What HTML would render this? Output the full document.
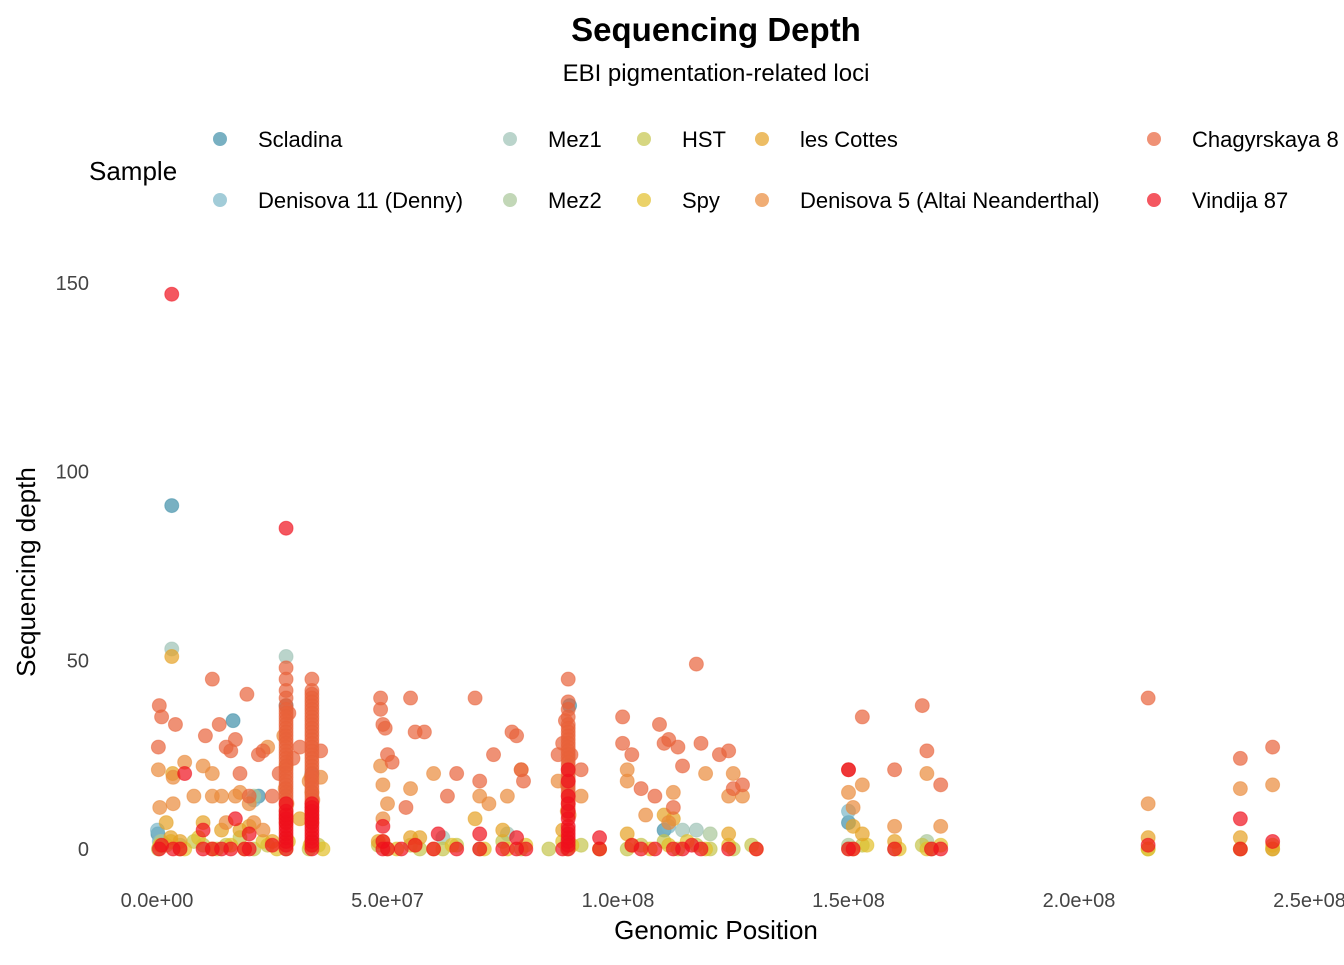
<!DOCTYPE html>
<html><head><meta charset="utf-8">
<style>
body{margin:0;background:#fff;font-family:"Liberation Sans",sans-serif;}
svg text{font-family:"Liberation Sans",sans-serif;}
</style></head>
<body>
<svg id="chart" width="1344" height="960" viewBox="0 0 1344 960" xmlns="http://www.w3.org/2000/svg">
<rect width="1344" height="960" fill="#fff"/>
<text x="716" y="41" text-anchor="middle" font-size="33" font-weight="bold" fill="#000">Sequencing Depth</text>
<text x="716" y="81" text-anchor="middle" font-size="24" fill="#000">EBI pigmentation-related loci</text>
<text x="89" y="180" font-size="26" fill="#000">Sample</text>
<g id="legend"></g>
<g id="yticks"></g>
<g id="xticks"></g>
<g id="points"></g>
<text x="716" y="939" text-anchor="middle" font-size="26" fill="#000">Genomic Position</text>
<text transform="translate(35,572) rotate(-90)" text-anchor="middle" font-size="26" fill="#000">Sequencing depth</text>
</svg>
<script>
const xTicks=[0,5e7,1e8,1.5e8,2e8,2.5e8];
const xTickLabels=["0.0e+00","5.0e+07","1.0e+08","1.5e+08","2.0e+08","2.5e+08"];
const yTicks=[0,50,100,150];
const seriesNames=["Scladina","Denisova 11 (Denny)","Mez1","Mez2","HST","Spy","les Cottes","Denisova 5 (Altai Neanderthal)","Chagyrskaya 8","Vindija 87"];
const seriesColors=["#3f8fa8","#7ab7c8","#9dc2b5","#a8c699","#c4c44c","#e2bf2a","#e6a124","#e98a3a","#e8623a","#f0101c"];
// [position in Mb, depth]
const scladinaPoints=[[3.2,91],[16.5,34],[22,14],[89.5,38],[110,5],[150,7],[0.2,4],[28,38],[33.6,20],[89.2,1]];
const denny11Points=[[0.1,5],[150,10],[111,6],[21,13],[33.6,2],[28,2],[0.5,2],[89,2]];
const mez1Points=[[28,51],[3.2,53],[62,3],[76,4],[114,5],[117,5],[1,2],[33.6,1]];
const mez2Points=[[0.8,2],[21,14],[28,3],[33.6,1],[89,1],[120,4],[150,1],[167,2],[5,1]];
const hstPoints=[[0.3,0],[2,1],[5,0],[8,2],[10,1],[13,0],[15,1],[18,3],[21,0],[24,1],[28,0],[33,0],[35,1],[48,1],[50,0],[55,1],[57,0],[62,0],[65,1],[70,0],[75,2],[79,0],[85,0],[89,0],[92,1],[96,0],[102,0],[105,1],[110,2],[113,0],[117,1],[120,0],[125,0],[129,1],[150,0],[153,1],[160,0],[166,1],[168,0],[215,0],[235,0],[242,0]];
const spyPoints=[[0.6,1],[3,2],[6,0],[9,3],[12,0],[16,1],[19,0],[23,2],[26,0],[28.5,2],[33.2,1],[36,0],[49,2],[52,0],[56,1],[60,0],[64,1],[71,0],[76,0],[80,1],[88,2],[90,1],[96,0],[103,1],[107,0],[111,1],[115,2],[119,0],[124,1],[130,0],[151,0],[154,1],[161,0],[167,0],[170,1],[215,0],[235,0],[242,1]];
const cottesPoints=[[3.2,51],[3.4,20],[3,3],[5,2],[10,7],[14,5],[20,6],[25,2],[48,2],[55,3],[57,3],[69,8],[75,5],[88,5],[102,4],[110,9],[112,8],[124,4],[151,6],[153,4],[160,2],[215,3],[235,3],[242,0],[28,22],[33.6,15],[89,10],[2,7],[18,5],[31,8]];
const den5Points=[[0.3,21],[0.6,11],[3.5,12],[3.5,19],[6,23],[8,14],[10,22],[12,20],[12,14],[14,14],[15,7],[17,14],[18,15],[20,12],[21,7],[23,5],[27.5,30],[33,18],[48.5,22],[49,17],[49,8],[50,12],[55,16],[60,20],[70,14],[72,12],[76,14],[79,21],[87,18],[92,14],[102,18],[102,21],[106,9],[111,7],[112,15],[119,20],[124,14],[125,20],[127,14],[150,15],[151,11],[153,17],[160,6],[167,20],[170,6],[215,12],[235,16],[242,17],[27.8,16],[28.2,12],[33.4,19],[33.8,13],[89,17],[89.4,9],[35.5,19],[24,27]];
const chagScatter=[[0.5,38],[1,35],[0.3,27],[4,33],[12,45],[19.5,41],[10.5,30],[13.5,33],[15,27],[16,26],[17,29],[18,20],[20,14],[22,25],[23,26],[25,14],[26.5,20],[29.5,24],[31,27],[35.5,26],[48.5,40],[48.5,37],[49,33],[49.5,32],[50,25],[51,23],[54,11],[55,40],[56,31],[58,31],[63,14],[65,20],[69,40],[70,18],[73,25],[77,31],[78,30],[79,21],[79.5,18],[87,25],[88,28],[92,21],[101,35],[101,28],[103,25],[105,16],[108,14],[109,33],[110,28],[111,29],[112,11],[113,27],[114,22],[117,49],[118,28],[122,25],[124,26],[125,16],[127,17],[150,21],[153,35],[160,21],[166,38],[167,26],[170,17],[215,40],[235,24],[242,27],[28.6,36],[88.6,34],[89.8,25]];
const chagCol1=[[28,48],[28,45],[28,42],[28,40],[28,38],[28,37],[28,36],[28,35],[28,34],[28,33],[28,32],[28,31],[28,30],[28,29],[28,28],[28,27],[28,26],[28,25],[28,24],[28,23],[28,22],[28,21],[28,20],[28,19],[28,18],[28,17],[28,16],[28,15],[28,14],[28,13],[28,12],[28,11],[28,10],[28,9],[28,8],[28,7]];
const chagCol2=[[33.6,45],[33.6,42],[33.6,41],[33.6,40],[33.6,39],[33.6,38],[33.6,37],[33.6,36],[33.6,35],[33.6,34],[33.6,33],[33.6,32],[33.6,31],[33.6,30],[33.6,29],[33.6,28],[33.6,27],[33.6,26],[33.6,25],[33.6,24],[33.6,23],[33.6,22],[33.6,21],[33.6,20],[33.6,19],[33.6,18],[33.6,17],[33.6,16],[33.6,15],[33.6,14],[33.6,13],[33.6,12],[33.6,11],[33.6,10],[33.6,9],[33.6,8],[33.6,7]];
const chagCol3=[[89.2,45],[89.2,39],[89.2,37],[89.2,35],[89.2,33],[89.2,32],[89.2,31],[89.2,30],[89.2,29],[89.2,28],[89.2,27],[89.2,26],[89.2,25],[89.2,24],[89.2,23],[89.2,22],[89.2,21],[89.2,20],[89.2,19],[89.2,18],[89.2,17],[89.2,16],[89.2,15],[89.2,14],[89.2,13],[89.2,12],[89.2,11],[89.2,10],[89.2,9]];
const vindScatter=[[3.2,147],[28,85],[0.5,0],[1,1],[3.5,0],[5,0],[10,0],[12,0],[14,0],[16,0],[19,0],[20,0],[25,1],[49,0],[50,0],[53,0],[56,1],[60,0],[65,0],[70,0],[75,0],[78,0],[80,0],[88,0],[96,0],[103,1],[105,0],[108,0],[112,0],[114,0],[116,1],[118,0],[124,0],[130,0],[150,0],[151,0],[160,0],[168,0],[170,0],[215,1],[235,0],[242,2],[6,20],[10,5],[17,8],[20,4],[61,4],[70,4],[78,3],[96,3],[150,21],[235,8],[49,2],[49,6]];
const vindColumns=[[28,0],[28,1],[28,2],[28,3],[28,4],[28,5],[28,6],[28,7],[28,8],[28,9],[28,10],[28,12],[33.6,0],[33.6,1],[33.6,2],[33.6,3],[33.6,4],[33.6,5],[33.6,6],[33.6,7],[33.6,8],[33.6,9],[33.6,10],[33.6,11],[33.6,12],[89.2,0],[89.2,1],[89.2,2],[89.2,3],[89.2,4],[89.2,5],[89.2,6],[89.2,8],[89.2,10],[89.2,12],[89.2,14],[89.2,18],[89.2,21]];
const seriesPoints=[scladinaPoints,denny11Points,mez1Points,mez2Points,hstPoints,spyPoints,cottesPoints,den5Points,chagScatter.concat(chagCol1,chagCol2,chagCol3),vindScatter.concat(vindColumns)];

const NS="http://www.w3.org/2000/svg";
const xScale=v=>157+(v/5e7)*230.5;
const yScale=v=>849-v*3.774;
function mk(tag,attrs,parent){const e=document.createElementNS(NS,tag);for(const k in attrs)e.setAttribute(k,attrs[k]);parent.appendChild(e);return e;}

const yg=document.getElementById('yticks');
yTicks.forEach(t=>{const e=mk('text',{x:89,y:yScale(t)+7,'text-anchor':'end','font-size':20,fill:'#444'},yg);


e.textContent=t;});
const xg=document.getElementById('xticks');
xTicks.forEach((t,i)=>{const e=mk('text',{x:xScale(t),y:907,'text-anchor':'middle','font-size':20,fill:'#444'},xg);


e.textContent=xTickLabels[i];});

const pg=document.getElementById('points');
seriesPoints.forEach((pts,s)=>{pts.forEach(p=>{
 const c=mk('circle',{cx:xScale(p[0]*1e6),cy:yScale(p[1]),r:7,fill:seriesColors[s],'fill-opacity':0.7,stroke:seriesColors[s],'stroke-opacity':0.5,'stroke-width':1},pg);
 
 
});});

const lg=document.getElementById('legend');
const legX=[220,510,644,762,1154],legY=[139,200];
seriesNames.forEach((n,i)=>{
 const col=Math.floor(i/2),row=i%2;
 const g=mk('g',{},lg);
 
 
 mk('circle',{cx:legX[col],cy:legY[row],r:7,fill:seriesColors[i],'fill-opacity':0.7},g);
 const t=mk('text',{x:legX[col]+38,y:legY[row]+8,'font-size':22,fill:'#000'},g);
 t.textContent=n;
});
</script>
</body></html>
